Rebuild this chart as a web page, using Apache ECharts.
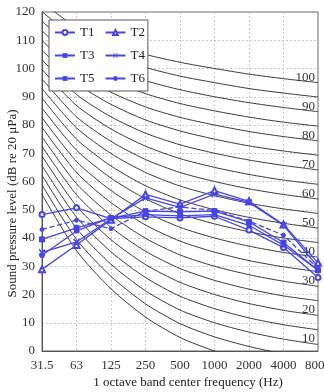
<!DOCTYPE html>
<html>
<head>
<meta charset="utf-8">
<script src="https://cdn.jsdelivr.net/npm/echarts@6/dist/echarts.min.js"></script>
<style>
	html, body { margin: 0; padding: 0; background: #fff; }
	#chart { width: 324px; height: 392px; }
</style>
</head>
<body>
<div id="chart"></div>
<script type="text/javascript">
	// octave bands
	var freqs = ['31.5', '63', '125', '250', '500', '1000', '2000', '4000', '8000'];

	// NR curves, levels 0..100 step 5
	var nrLevels = [0, 5, 10, 15, 20, 25, 30, 35, 40, 45, 50, 55, 60, 65, 70, 75, 80, 85, 90, 95, 100];
	var nrCurves = [
		[55.4, 35.5, 22.0, 12.0, 4.8, 0, -3.5, -6.1, -8.0],
		[58.8, 39.5, 26.4, 16.7, 9.7, 5, 1.6, -1.0, -2.9],
		[62.2, 43.4, 30.7, 21.3, 14.5, 10, 6.7, 4.2, 2.3],
		[65.6, 47.4, 35.1, 26.0, 19.4, 15, 11.7, 9.3, 7.5],
		[69.0, 51.3, 39.4, 30.6, 24.3, 20, 16.8, 14.4, 12.6],
		[72.4, 55.3, 43.8, 35.3, 29.2, 25, 21.9, 19.5, 17.8],
		[75.8, 59.2, 48.1, 39.9, 34.0, 30, 27.0, 24.7, 22.9],
		[79.2, 63.2, 52.5, 44.6, 38.9, 35, 32.0, 29.8, 28.1],
		[82.6, 67.1, 56.8, 49.2, 43.8, 40, 37.1, 34.9, 33.2],
		[86.0, 71.1, 61.2, 53.9, 48.6, 45, 42.2, 40.0, 38.4],
		[89.5, 75.0, 65.5, 58.5, 53.5, 50, 47.3, 45.2, 43.5],
		[92.9, 79.0, 69.9, 63.2, 58.4, 55, 52.3, 50.3, 48.7],
		[96.3, 82.9, 74.2, 67.8, 63.2, 60, 57.4, 55.4, 53.8],
		[99.7, 86.9, 78.6, 72.5, 68.1, 65, 62.5, 60.5, 59.0],
		[103.1, 90.8, 82.9, 77.1, 73.0, 70, 67.6, 65.7, 64.1],
		[106.5, 94.8, 87.3, 81.8, 77.9, 75, 72.6, 70.8, 69.3],
		[109.9, 98.7, 91.6, 86.4, 82.7, 80, 77.7, 75.9, 74.4],
		[113.3, 102.7, 96.0, 91.1, 87.6, 85, 82.8, 81.0, 79.6],
		[116.7, 106.6, 100.3, 95.7, 92.5, 90, 87.9, 86.2, 84.7],
		[120.1, 110.6, 104.7, 100.4, 97.3, 95, 92.9, 91.3, 89.9],
		[123.5, 114.5, 109.0, 105.0, 102.2, 100, 98.0, 96.4, 95.0]
	];

	// measured series
	var t1 = [48.3, 50.7, 46.9, 47.5, 47.1, 47.7, 42.8, 36.6, 26.0];
	var t2 = [28.9, 37.5, 46.5, 55.4, 52.0, 56.8, 53.0, 44.8, 31.2];
	var t3 = [39.5, 43.6, 47.0, 49.5, 49.3, 49.5, 45.7, 38.4, 28.6];
	var t4 = [34.9, 38.6, 46.8, 54.2, 50.8, 55.5, 52.6, 44.5, 29.8];
	var t5 = [33.9, 42.5, 47.2, 48.3, 47.8, 48.3, 44.5, 37.5, 28.6];
	var t6 = [43.0, 46.3, 43.3, 49.5, 51.0, 49.8, 46.0, 41.0, 29.2];

	var serif = 'Liberation Serif';
	var blue = '#4646e6';
	var xMark = 'path://M0,1L1,0L5,4L9,0L10,1L6,5L10,9L9,10L5,6L1,10L0,9L4,5Z';

	var series = [];
	for (var i = 0; i < nrLevels.length; i++) {
		var lv = nrLevels[i];
		series.push({
			name: 'NR' + lv,
			type: 'line',
			data: nrCurves[i],
			smooth: 0.25,
			symbol: 'none',
			silent: true,
			z: 1,
			lineStyle: { color: '#3a3a3a', width: 1 },
			endLabel: {
				show: lv >= 10 && lv % 10 === 0,
				formatter: String(lv),
				fontFamily: serif,
				fontSize: 13,
				color: '#333',
				align: 'right',
				verticalAlign: 'bottom',
				offset: [-11, 1]
			}
		});
	}

	function tSeries(name, data, symbol, size, dashed) {
		return {
			name: name,
			type: 'line',
			data: data,
			symbol: symbol,
			symbolSize: size,
			z: 5,
			lineStyle: { color: blue, width: 1.3, type: dashed ? 'dashed' : 'solid' },
			itemStyle: { color: blue, borderColor: blue }
		};
	}
	series.push(tSeries('T1', t1, 'emptyCircle', 5));
	series.push(tSeries('T2', t2, 'emptyTriangle', 6));
	series.push(tSeries('T3', t3, 'rect', 5));
	series.push(tSeries('T4', t4, xMark, 6));
	series.push(tSeries('T5', t5, 'rect', 4));
	series.push(tSeries('T6', t6, 'circle', 4, true));

	var chart = echarts.init(document.getElementById('chart'));
	chart.setOption({
		animation: false,
		textStyle: { fontFamily: serif },
		grid: {
			left: 42, right: 6, top: 12, bottom: 41,
			outerBoundsMode: 'none',
			containLabel: false,
			show: true, borderColor: '#666', borderWidth: 1
		},
		legend: {
			data: ['T1', 'T2', 'T3', 'T4', 'T5', 'T6'],
			orient: 'horizontal',
			left: 49, top: 20, width: 96,
			itemWidth: 20, itemHeight: 6, itemGap: 10, itemTextGap: 3,
			padding: [6, 3, 6, 5],
			backgroundColor: '#fff',
			borderColor: '#555', borderWidth: 1, borderRadius: 0,
			textStyle: { fontFamily: serif, fontSize: 13, color: '#222' }
		},
		xAxis: {
			type: 'category',
			data: freqs,
			boundaryGap: false,
			name: '1 octave band center frequency (Hz)',
			nameLocation: 'middle',
			nameGap: 25,
			nameMoveOverlap: false,
			nameTextStyle: { fontFamily: serif, fontSize: 13, color: '#222', padding: [0, 0, 0, 16] },
			axisLine: { lineStyle: { color: '#555' } },
			axisTick: { show: false },
			axisLabel: { fontFamily: serif, fontSize: 13, color: '#333', margin: 8, interval: 0 },
			splitLine: { show: true, lineStyle: { color: '#bbb', type: [2, 2], width: 0.8 } }
		},
		yAxis: {
			type: 'value',
			min: 0, max: 120, interval: 10,
			name: 'Sound pressure level (dB re 20 μPa)',
			nameLocation: 'middle',
			nameGap: 29,
			nameRotate: 90,
			nameMoveOverlap: false,
			nameTextStyle: { fontFamily: serif, fontSize: 13, color: '#222', verticalAlign: 'middle', padding: [0, 44, 0, 0] },
			axisLine: { show: true, lineStyle: { color: '#555' } },
			axisTick: { show: false },
			axisLabel: { fontFamily: serif, fontSize: 13, color: '#333', margin: 7 },
			splitLine: { show: true, lineStyle: { color: '#bbb', type: [2, 2], width: 0.8 } }
		},
		series: series
	});
</script>
</body>
</html>
